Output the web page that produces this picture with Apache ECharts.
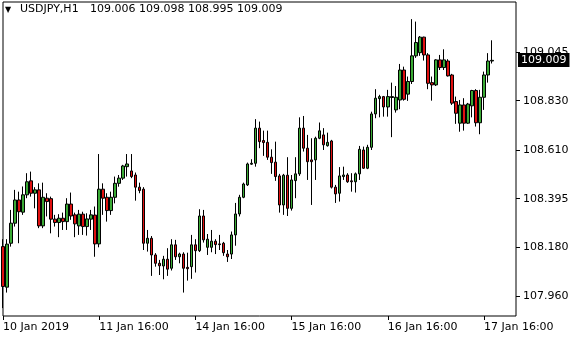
<!DOCTYPE html>
<html><head><meta charset="utf-8">
<script src="https://cdn.jsdelivr.net/npm/echarts@6/dist/echarts.min.js"></script>
<style>html,body{margin:0;padding:0;background:#fff}#c{width:580px;height:340px}</style>
</head><body><div id="c"></div>
<script>
const symbolName = 'USDJPY,H1';
const opens = [
108.182,108.002,108.197,108.286,108.389,108.335,108.412,108.474,108.419,108.434,
108.274,108.397,108.395,108.304,108.289,108.308,108.293,108.371,108.323,108.274,
108.326,108.271,108.304,108.322,108.194,108.437,108.401,108.342,108.401,108.463,
108.486,108.537,108.518,108.500,108.446,108.437,108.197,108.219,108.145,108.108,
108.096,108.126,108.086,108.190,108.137,108.149,108.090,108.093,108.190,108.164,
108.318,108.179,108.179,108.206,108.194,108.197,108.149,108.149,108.234,108.327,
108.401,108.456,108.548,108.552,108.708,108.653,108.645,108.579,108.557,108.496,
108.367,108.499,108.352,108.475,108.505,108.708,108.619,108.567,108.567,108.663,
108.678,108.630,108.651,108.446,108.419,108.493,108.500,108.474,108.470,108.505,
108.611,108.530,108.623,108.771,108.839,108.848,108.802,108.844,108.789,108.833,
108.966,108.859,108.915,109.029,109.043,109.112,109.033,108.910,108.900,109.011,
108.977,109.006,108.944,108.826,108.730,108.811,108.730,108.807,108.875,108.732,
108.845,108.944,109.006];
const closes = [
108.005,108.193,108.286,108.389,108.337,108.412,108.470,108.419,108.434,108.274,
108.401,108.382,108.304,108.289,108.308,108.293,108.371,108.318,108.283,108.326,
108.271,108.305,108.323,108.194,108.437,108.397,108.342,108.401,108.463,108.486,
108.540,108.549,108.493,108.446,108.431,108.197,108.219,108.145,108.108,108.097,
108.126,108.082,108.190,108.137,108.149,108.086,108.084,108.190,108.164,108.318,
108.212,108.215,108.206,108.191,108.191,108.155,108.137,108.234,108.327,108.401,
108.460,108.549,108.552,108.708,108.648,108.644,108.579,108.555,108.493,108.367,
108.499,108.352,108.478,108.505,108.708,108.619,108.559,108.559,108.663,108.696,
108.634,108.645,108.446,108.416,108.496,108.500,108.470,108.470,108.505,108.614,
108.530,108.623,108.771,108.841,108.848,108.802,108.848,108.848,108.845,108.966,
108.836,108.915,109.029,109.088,109.112,109.033,108.907,108.900,109.011,108.977,
109.011,108.940,108.819,108.774,108.811,108.730,108.815,108.875,108.732,108.845,
108.944,109.006,109.009];
const lows = [
107.909,107.978,108.182,108.271,108.197,108.323,108.397,108.404,108.352,108.264,
108.264,108.316,108.241,108.271,108.224,108.256,108.256,108.301,108.224,108.234,
108.234,108.231,108.256,108.137,108.179,108.323,108.293,108.323,108.374,108.448,
108.478,108.493,108.486,108.386,108.419,108.167,108.160,108.052,108.093,108.056,
108.037,108.052,108.076,108.123,108.108,107.978,108.031,108.039,108.067,108.158,
108.200,108.145,108.157,108.149,108.167,108.141,108.114,108.127,108.186,108.316,
108.397,108.451,108.545,108.537,108.619,108.585,108.567,108.505,108.474,108.333,
108.323,108.318,108.342,108.397,108.496,108.604,108.478,108.367,108.478,108.659,
108.611,108.626,108.440,108.376,108.382,108.478,108.465,108.426,108.422,108.478,
108.527,108.526,108.611,108.752,108.756,108.759,108.759,108.668,108.777,108.792,
108.830,108.829,108.904,109.020,109.029,109.008,108.881,108.830,108.895,108.966,
108.966,108.937,108.811,108.727,108.692,108.697,108.727,108.756,108.715,108.681,
108.789,108.910,108.995];
const highs = [
108.215,108.215,108.345,108.434,108.426,108.449,108.508,108.515,108.446,108.463,
108.466,108.419,108.404,108.323,108.326,108.333,108.397,108.422,108.333,108.345,
108.337,108.330,108.345,108.360,108.593,108.463,108.419,108.426,108.493,108.500,
108.545,108.593,108.593,108.511,108.466,108.446,108.256,108.229,108.153,108.123,
108.141,108.175,108.215,108.212,108.155,108.157,108.155,108.234,108.215,108.348,
108.345,108.238,108.256,108.215,108.234,108.203,108.167,108.249,108.376,108.412,
108.466,108.555,108.570,108.748,108.737,108.697,108.697,108.614,108.648,108.505,
108.505,108.579,108.500,108.579,108.756,108.762,108.678,108.663,108.670,108.733,
108.708,108.688,108.656,108.456,108.535,108.537,108.508,108.508,108.511,108.629,
108.626,108.634,108.781,108.881,108.856,108.851,108.878,108.910,108.895,108.993,
108.981,108.937,109.192,109.181,109.117,109.114,109.041,108.937,109.014,109.033,
109.058,109.014,108.949,108.848,108.833,108.841,108.820,108.878,108.881,108.878,
108.959,109.041,109.098];
const slotCount = 129; // bar slots shown across the chart width (incl. empty right margin)
const categories = Array.from({length: slotCount}, (_, i) => String(i));
const xTickIndex = [0, 24, 48, 72, 96, 120];
const xTickLabels = ['10 Jan 2019', '11 Jan 16:00', '14 Jan 16:00', '15 Jan 16:00', '16 Jan 16:00', '17 Jan 16:00'];
const yTickValues = [107.960, 108.180, 108.395, 108.610, 108.830, 109.045];
const yMin = 107.874, yMax = 109.268;

const candles = opens.map((o, i) => [o, closes[i], lows[i], highs[i]]);
const last = opens.length - 1;
const lastPriceText = closes[last].toFixed(3);
const FONT = 'DejaVu Sans';
const chart = echarts.init(document.getElementById('c'), null, {renderer: 'canvas'});
const isTick = (i) => xTickIndex.indexOf(i) >= 0;
const ohlcText = [opens[last], highs[last], lows[last], closes[last]].map(v => '{n|' + v.toFixed(3) + '}').join('');
chart.setOption({
  animation: false,
  backgroundColor: '#fff',
  title: {
    text: '{t|\u25BC}{s|' + symbolName + '}' + ohlcText,
    left: 5, top: 4, padding: 0,
    textStyle: {
      fontFamily: FONT, fontSize: 11, fontWeight: 'normal', color: '#000',
      rich: {
        t: {fontFamily: FONT, fontSize: 8, width: 15, color: '#000', verticalAlign: 'middle'},
        s: {fontFamily: FONT, fontSize: 11, width: 70, color: '#000'},
        n: {fontFamily: FONT, fontSize: 11, width: 49, color: '#000'}
      }
    }
  },
  grid: {left: 2, right: 64, top: 2, bottom: 24, show: true, borderColor: '#000', borderWidth: 1, backgroundColor: '#fff'},
  xAxis: {
    type: 'category', data: categories, boundaryGap: false,
    axisLine: {show: false},
    axisTick: {show: true, interval: (i) => isTick(i), length: 4, lineStyle: {color: '#000'}},
    axisLabel: {
      interval: (i) => isTick(i), align: 'left', margin: 6,
      fontFamily: FONT, fontSize: 11, color: '#000',
      formatter: (v) => { const k = xTickIndex.indexOf(Number(v)); return k >= 0 ? xTickLabels[k] : ''; }
    },
    splitLine: {show: false}
  },
  yAxis: {
    type: 'value', position: 'right', min: yMin, max: yMax, scale: true, z: 0,
    axisLine: {show: false},
    axisTick: {show: true, length: 4, customValues: yTickValues, lineStyle: {color: '#000'}},
    axisLabel: {customValues: yTickValues, margin: 7, fontFamily: FONT, fontSize: 11, color: '#000',
      formatter: (v) => Number(v).toFixed(3)},
    splitLine: {show: false}
  },
  series: [{
    type: 'candlestick',
    z: 10,
    data: candles,
    barWidth: 3,
    itemStyle: {color: '#3aaa35', color0: '#e01010', borderColor: '#000', borderColor0: '#000', borderWidth: 1},
    markLine: {
      silent: true, symbol: 'none', animation: false, z: 20,
      lineStyle: {color: 'rgba(0,0,0,0)', width: 0},
      label: {show: true, position: 'end', distance: 2, formatter: () => lastPriceText,
        backgroundColor: '#000', color: '#fff', fontFamily: FONT, fontSize: 11, padding: [2, 3, 1, 3]},
      data: [{yAxis: closes[last]}]
    }
  }]
});
</script></body></html>
